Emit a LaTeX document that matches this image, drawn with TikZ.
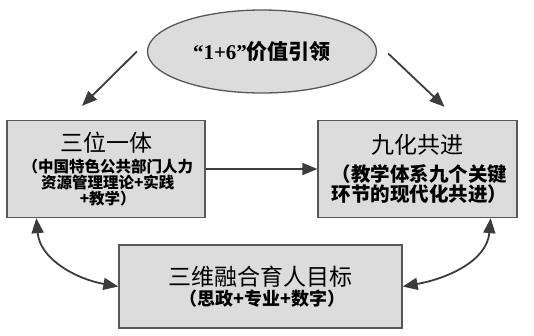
\documentclass[tikz,border=0pt]{standalone}
\usepackage{fontspec}
\setmainfont{Noto Sans CJK SC}
\newfontfamily\latinfont{Liberation Serif}
\usepackage{xcolor}
\usetikzlibrary{shapes.geometric}
\usetikzlibrary{arrows.meta}
\usetikzlibrary{positioning}

\definecolor{boxfill}{HTML}{DCDCDC}
\definecolor{boxline}{HTML}{585858}
\definecolor{arrline}{HTML}{3C3C3C}

\newcommand{\titlefont}{\fontsize{23}{28}\selectfont}
\newcommand{\subfont}[2]{\bfseries\fontsize{#1}{#2}\selectfont}

\begin{document}
\begin{tikzpicture}[x=1pt, y=-1pt,
  box/.style={rectangle, draw=boxline, fill=boxfill, line width=1.3pt, align=center, inner sep=2pt},
  goal/.style={ellipse, draw=boxline, fill=boxfill, line width=1.3pt, inner sep=0pt,
    minimum width=229pt, minimum height=83pt},
  arr/.style={draw=arrline, line width=1.8pt, -{Triangle[length=15pt,width=12pt]}},
  dbl/.style={draw=arrline, line width=1.8pt, {Triangle[length=15pt,width=12pt]}-{Triangle[length=15pt,width=12pt]}}
]
\useasboundingbox (0,0) rectangle (534,335);

\node[goal] (top) at (262,51.5)
  {\bfseries\fontsize{21}{25}\selectfont{\latinfont “1+6”}价值引领};

\node[box, minimum width=198pt, minimum height=97pt] (left) at (106,169)
  {\titlefont 三位一体\\[4pt]
   \subfont{15.5}{19.5} （中国特色公共部门人力\\
   \subfont{15.5}{19.5} 资源管理理论+实践\\
   \subfont{15.5}{19.5} +教学）};

\node[box, minimum width=199pt, minimum height=97pt] (right) at (417.5,169)
  {\titlefont 九化共进\\[8pt]
   \subfont{19.5}{23} （教学体系九个关键\\
   \subfont{19.5}{23} 环节的现代化共进）};

\node[box, minimum width=283pt, minimum height=83pt] (bottom) at (260.5,286.5)
  {\titlefont 三维融合育人目标\\[2pt]
   \subfont{18}{22} （思政+专业+数字）};

% value arrows
\draw[arr] ([xshift=-10pt]top.west) -- ([xshift=-24pt,yshift=14pt]left.north);
\draw[arr] ([xshift=11pt,yshift=-2pt]top.east) -- ([xshift=27pt,yshift=13pt]right.north);
\draw[arr] (left.east) -- (right.west);

% two way links to the goal
\draw[dbl] ([xshift=30pt]left.south west) to[out=-85,in=170] (bottom.west);
\draw[dbl] (bottom.east) to[out=10,in=-95] ([xshift=-27pt]right.south east);
\end{tikzpicture}
\end{document}
